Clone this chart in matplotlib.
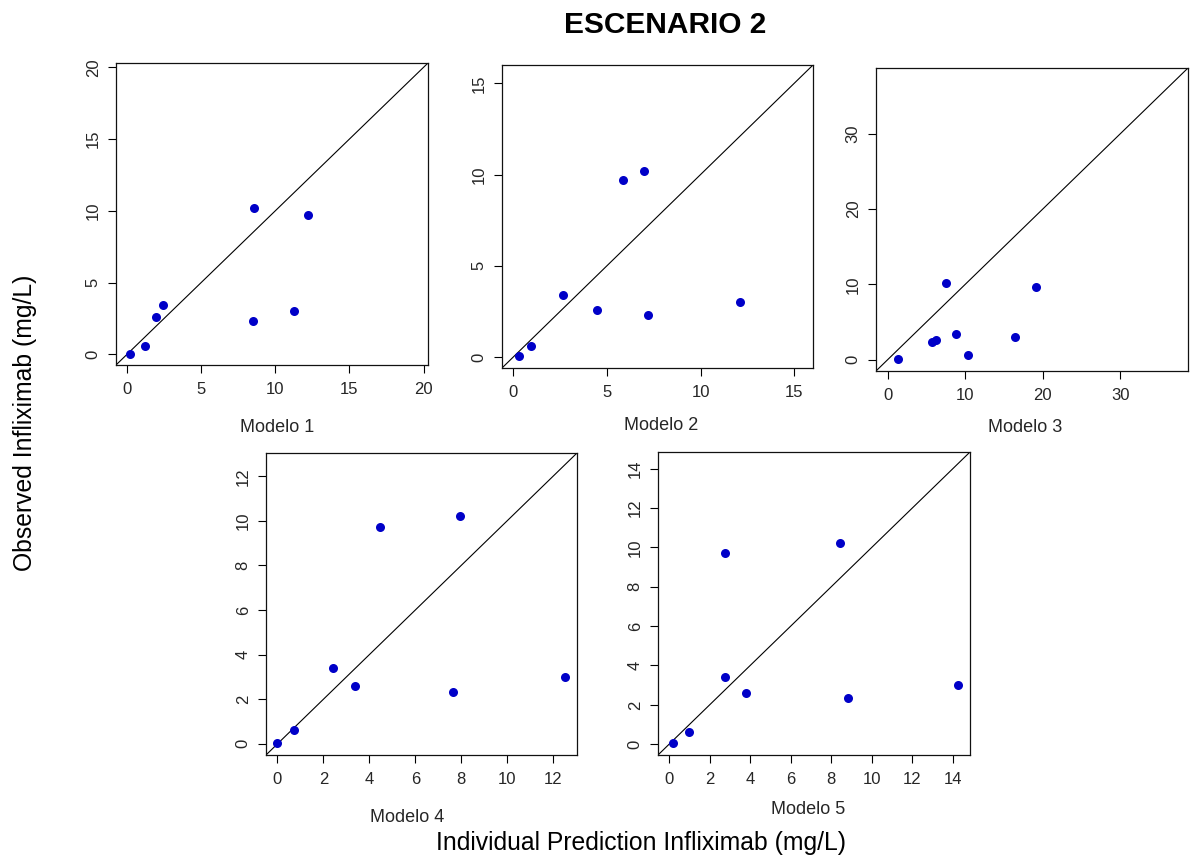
import matplotlib
matplotlib.use("Agg")
import matplotlib.pyplot as plt

# ---- data ----
observed = [0.05, 0.6, 3.4, 2.6, 9.7, 10.2, 2.33, 3.0]

pred_modelo1 = [0.18, 1.19, 2.43, 1.96, 12.23, 8.58, 8.51, 11.26]
pred_modelo2 = [0.32, 0.94, 2.68, 4.46, 5.88, 6.97, 7.18, 12.1]
pred_modelo3 = [1.28, 10.34, 8.85, 6.2, 19.06, 7.48, 5.77, 16.37]
pred_modelo4 = [0.0, 0.72, 2.42, 3.39, 4.46, 7.96, 7.64, 12.5]
pred_modelo5 = [0.18, 1.0, 2.76, 3.78, 2.76, 8.41, 8.81, 14.25]

model_labels = ["Modelo 1", "Modelo 2", "Modelo 3", "Modelo 4", "Modelo 5"]
tick_sets = [[0, 5, 10, 15, 20],
             [0, 5, 10, 15],
             [0, 10, 20, 30],
             [0, 2, 4, 6, 8, 10, 12],
             [0, 2, 4, 6, 8, 10, 12, 14]]
limits = [(-0.75, 20.3), (-0.6, 16.0), (-1.5, 38.7), (-0.5, 13.04), (-0.55, 14.85)]

title = "ESCENARIO 2"
xlabel = "Individual Prediction Infliximab (mg/L)"
ylabel = "Observed Infliximab (mg/L)"

# ---- layout (pixels) ----
W, H = 1192, 859
boxes = [(116, 63, 428, 365),
         (502, 65, 813, 368),
         (876, 68, 1188, 371),
         (266, 453, 577, 755),
         (658, 452, 970, 755)]
label_pos = [(277, 427), (661, 425), (1025, 427), (407, 817), (808, 810)]

plt.rcParams['font.family'] = ['Liberation Sans', 'DejaVu Sans']

fig = plt.figure(figsize=(W / 100, H / 100), dpi=100)
fig.patch.set_facecolor('white')

preds = [pred_modelo1, pred_modelo2, pred_modelo3, pred_modelo4, pred_modelo5]
point_color = '#0000C8'
text_color = '#262626'

for i, (l, t, r, b) in enumerate(boxes):
    ax = fig.add_axes([l / W, (H - b) / H, (r - l) / W, (b - t) / H])
    lo, hi = limits[i]
    ax.set_xlim(lo, hi)
    ax.set_ylim(lo, hi)
    ax.axline((0, 0), slope=1, color='black', lw=0.8, zorder=2)
    ax.plot(preds[i], observed, 'o', color=point_color, markersize=6.5,
            markeredgewidth=0, zorder=3, clip_on=False)
    ax.set_xticks(tick_sets[i])
    ax.set_yticks(tick_sets[i])
    ax.tick_params(axis='both', direction='out', length=6, width=0.8,
                   colors='black', labelcolor=text_color, labelsize=12)
    ax.tick_params(axis='x', pad=6)
    ax.tick_params(axis='y', pad=5)
    for lab in ax.get_yticklabels():
        lab.set_rotation(90)
        lab.set_va('center')
    for s in ax.spines.values():
        s.set_linewidth(0.9)
        s.set_color('#111111')
    fig.text(label_pos[i][0] / W, 1 - label_pos[i][1] / H, model_labels[i],
             ha='center', va='center', fontsize=13, color=text_color)

fig.text(665 / W, 1 - 25 / H, title, ha='center', va='center',
         fontsize=21.5, fontweight='bold', color='black')
fig.text(25 / W, 1 - 423 / H, ylabel, ha='center', va='center',
         rotation=90, fontsize=17.8, color='black')
fig.text(641 / W, 1 - 843 / H, xlabel, ha='center', va='center',
         fontsize=17.8, color='black')

fig.savefig('out.png', dpi=100, facecolor='white')
